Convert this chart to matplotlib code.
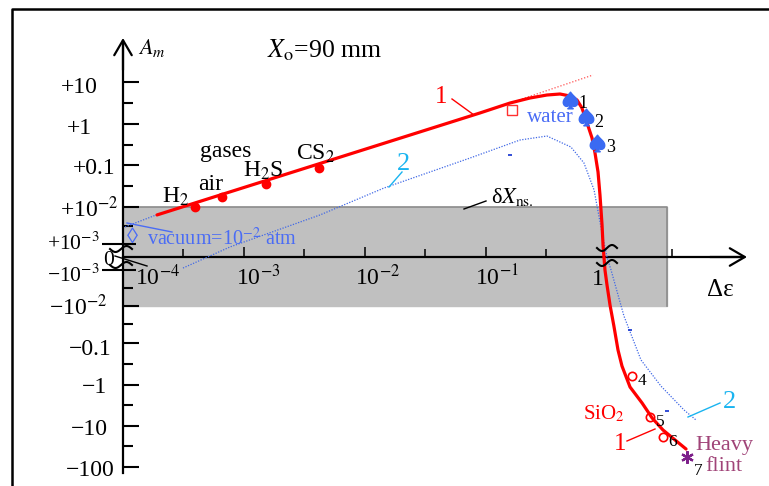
import numpy as np
import matplotlib
matplotlib.use('Agg')
import matplotlib.pyplot as plt
from matplotlib.lines import Line2D

plt.rcParams['font.family'] = 'Liberation Serif'
plt.rcParams['mathtext.fontset'] = 'stix'

# ---- values (delta-eps, A_m) ----
# curve 1, red thick
eps1 = [1.91e-4, 0.0891, 0.158, 0.231, 0.319, 0.409, 0.494, 0.565, 0.621, 0.684,
        0.752, 0.796, 0.843, 0.875, 0.910, 0.927, 0.944, 0.962, 1.0, 1.059,
        1.14, 1.233, 1.33, 1.55, 1.95, 2.36, 2.90, 3.65, 4.50]
amp1 = [6.1e-3, 1.83, 3.16, 4.16, 4.90, 5.18, 4.64, 3.73, 2.40, 1.06,
        0.456, 0.196, 0.0681, 0.0193, 0.00327, 0.000923, 0.0, -0.001, -0.00261, -0.00938,
        -0.0347, -0.147, -0.354, -1.12, -2.75, -6.38, -12.5, -21.9, -36.4]
# dotted continuation of the straight part of curve 1
eps1_ext = [0.158, 0.766]
amp1_ext = [3.16, 14.8]

# curve 2, blue dotted
eps2 = [3.13e-4, 7.65e-4, 4.25e-3, 0.01435, 0.0738, 0.191, 0.319, 0.503, 0.645, 0.782,
        0.910, 1.0, 1.08, 1.38, 1.91, 2.79, 4.33, 5.44]
amp2 = [-0.00085, 0.00077, 0.0061, 0.0283, 0.148, 0.407, 0.509, 0.275, 0.112, 0.0254,
        0.00198, 0.0, -0.001, -0.0186, -0.254, -1.06, -4.07, -7.14]
eps2_ext = [1.04e-4, 1.98e-4]
amp2_ext = [2.9e-3, 6.5e-3]
eps2_marks = [0.158, 1.55, 3.13]
amp2_marks = [0.175, -0.0446, -4.3]

# gases
gas_names = ['H$_2$', 'air', 'H$_2$S', 'CS$_2$']
gas_eps = [3.94e-4, 6.58e-4, 1.52e-3, 4.17e-3]
gas_amp = [0.01, 0.0173, 0.0353, 0.0849]

# water (1, 2, 3)
water_eps = [0.494, 0.670, 0.826]
water_amp = [3.73, 1.47, 0.344]

# SiO2 (4, 5, 6) and heavy flint (7)
sio2_eps = [1.61, 2.27, 2.9]
sio2_amp = [-0.61, -6.0, -18.5]
flint_eps = [4.58]
flint_amp = [-57.0]

square_eps = [0.164]
square_amp = [2.15]

# tick values
y_major = [10, 1, 0.1, 0.01, -0.01, -0.1, -1, -10, -100]
y_minor = [3.16, 0.316, 0.0316, 0.00316, -0.00316, -0.0316, -0.316, -3.16, -31.6]
x_major = [1e-3, 1e-2, 1e-1]
x_minor = [10 ** -3.5, 10 ** -2.5, 10 ** -1.5, 10 ** -0.5, 10 ** 0.54]

W, H = 769, 486

# ---- the A_m axis: decades, squeezed near zero ----
S_KNOTS = np.arange(-7, 8)
PIX = np.array([508, 467, 426, 385, 343, 306, 270, 257, 244, 207, 165, 124, 82, 41, 0])


def a_to_s(a):
    a = np.asarray(a, float)
    big = np.sign(a) * (np.log10(np.maximum(np.abs(a), 1e-12)) + 4)
    return np.where(np.abs(a) < 1e-3, a * 1e3, big)


def s_to_a(s):
    s = np.asarray(s, float)
    big = np.sign(s) * 10 ** (np.abs(s) - 4)
    return np.where(np.abs(s) < 1, s * 1e-3, big)


def fwd(a):
    return np.interp(a_to_s(a), S_KNOTS, -PIX)


def inv(v):
    return s_to_a(np.interp(v, -PIX, S_KNOTS))


def P(x, y):
    return x / W, 1 - y / H


fig = plt.figure(figsize=(W / 100, H / 100), dpi=100)
ax = fig.add_axes([0, 0, 1, 1])
ax.patch.set_alpha(0)
ax.set_xscale('log')
ax.set_yscale('function', functions=(fwd, inv))
ax.set_xlim(10 ** (-4 - 123 / 121), 10 ** (-4 + 646 / 121))
ax.set_ylim(float(inv(-H)), float(inv(0)))

# gray noise band
ax.fill_between([1e-4, 10 ** 0.5], -0.01, 0.01, color='#c0c0c0', zorder=0)
ax.plot([1e-4, 10 ** 0.5, 10 ** 0.5], [0.01, 0.01, -0.01], color='#8c8c8c', lw=1.2, zorder=0.5)

# axes lines and ticks
for side in ['top', 'right']:
    ax.spines[side].set_visible(False)
ax.spines['left'].set_position(('data', 1e-4))
ax.spines['bottom'].set_position(('data', 0.0))
ax.spines['left'].set_bounds(float(inv(-473)), float(inv(-45)))
ax.spines['bottom'].set_bounds(1e-4, 10 ** (-4 + 620 / 121))
ax.spines['left'].set_linewidth(1.6)
ax.spines['bottom'].set_linewidth(1.6)
ax.set_yticks(y_major)
ax.set_yticks(y_minor, minor=True)
ax.set_xticks(x_major)
ax.set_xticks(x_minor, minor=True)
ax.tick_params(axis='y', which='major', direction='in', length=11.5, width=1.5, labelleft=False)
ax.tick_params(axis='y', which='minor', direction='in', length=7.2, width=1.5)
ax.tick_params(axis='x', which='major', direction='in', length=7.5, width=1.1, labelbottom=False)
ax.tick_params(axis='x', which='minor', direction='in', length=5.5, width=1.1)
ax.plot([9.3e-5, 9.3e-5], [1e-3, -1e-3], ls='none', marker='_', ms=25, mew=1.5, color='k')

arrow = dict(arrowstyle='->,head_length=0.6,head_width=0.35', lw=1.6, color='k',
             shrinkA=0, shrinkB=0, mutation_scale=18)
ax.annotate('', xy=(123, H - 38), xytext=(123, H - 70), xycoords='figure pixels', arrowprops=arrow)
ax.annotate('', xy=(747, H - 257), xytext=(710, H - 257), xycoords='figure pixels', arrowprops=arrow)

# curves
ax.plot(eps1, amp1, color='red', lw=2.3, zorder=4, solid_capstyle='round', solid_joinstyle='round')
ax.plot(eps1_ext, amp1_ext, color='#ff5050', lw=0.9, ls=(0, (1, 1.5)), zorder=3)
ax.plot(eps2, amp2, color='#4169e6', lw=0.9, ls=(0, (1, 1.2)), zorder=3)
ax.plot(eps2_ext, amp2_ext, color='#4169e6', lw=0.9, ls=(0, (1, 1.2)), zorder=3)
ax.plot(eps2_marks, amp2_marks, ls='none', marker='_', ms=3, mew=1.2, color='#1030d0', zorder=3)

# points
ax.plot(gas_eps, gas_amp, ls='none', marker='o', ms=6, color='red', zorder=5)
ax.plot(water_eps, water_amp, ls='none', marker=r'$\spadesuit$', ms=12, color='#3a6af2', zorder=5)
ax.plot(sio2_eps, sio2_amp, ls='none', marker='o', ms=6, mfc='none', mec='red', mew=1.2, zorder=5)
ax.plot(flint_eps, flint_amp, ls='none', marker=(6, 2, 0), ms=9, mew=1.6, color='#7d1f8a', zorder=5)
ax.plot(square_eps, square_amp, ls='none', marker='s', ms=6.5, mfc='none', mec='#ff3030', mew=1.0, zorder=5)


# ---- texts ----
def txt(x, y, s, size=16, color='k', ha='center', va='center', **kw):
    fig.text(*P(x, y), s, fontsize=size, color=color, ha=ha, va=va, **kw)


txt(152, 48, '$A_m$', 16)
txt(267, 50, '$X_{\\mathrm{o}}$=90 mm', 18.5, ha='left')

# y tick labels: (text, right edge, baseline, size)
ylabels = [('+10', 98, 93, 17), ('+1', 92, 134, 17), ('+0.1', 115, 174, 17),
           ('+10$^{\u22122}$', 118, 217, 17), ('+10$^{\u22123}$', 100, 250, 15.5),
           ('0', 114, 265, 15.5), ('\u221210$^{\u22123}$', 100, 282, 15.5),
           ('\u221210$^{\u22122}$', 107, 315, 17), ('\u22120.1', 112, 355, 17), ('\u22121', 107, 393, 17),
           ('\u221210', 108, 435, 17), ('\u2212100', 115, 476, 17)]
for s, xr, yb, fs in ylabels:
    txt(xr, yb, s, fs, ha='right', va='baseline')

xlabels = [('10$^{\u22124}$', 158), ('10$^{\u22123}$', 258), ('10$^{\u22122}$', 378),
           ('10$^{\u22121}$', 497), ('1', 598)]
for s, xc in xlabels:
    txt(xc, 285, s, 17, va='baseline')
txt(720, 296, '\u0394\u03b5', 18, va='baseline')

txt(226, 151, 'gases', 17)
for name, (xc, yc) in zip(gas_names, [(176, 197), (211, 184), (263, 171), (316, 154)]):
    txt(xc, yc, name, 17)

txt(441, 97, '1', 18, 'red')
txt(404, 164, '2', 19, '#1ab4f0')
txt(620, 444, '1', 18, 'red')
txt(730, 402, '2', 19, '#1ab4f0')
txt(550, 117, 'water', 15, '#4a6cf5')
for n, (xc, yc) in zip('123', [(583, 104), (599, 122), (611, 148)]):
    txt(xc, yc, n, 13)
txt(604, 414, 'SiO$_2$', 15, 'red')
for n, (xc, yc) in zip('4567', [(642, 381), (660, 422), (673, 442), (698, 471)]):
    txt(xc, yc, n, 12.5)
txt(695, 445, 'Heavy', 16, '#a04478', ha='left')
txt(705, 466, 'flint', 16, '#a04478', ha='left')
txt(512, 197, '\u03b4$X_{\\mathrm{ns.}}$', 16)
txt(132, 238, '\u25ca', 16, '#4a6cf5')
txt(147, 239, 'vacuum=10$^{\u22122}$ atm', 14.5, '#4a6cf5', ha='left')


# leader lines
def seg(x0, y0, x1, y1, color='k', lw=1.0):
    (a, b), (c, d) = P(x0, y0), P(x1, y1)
    fig.add_artist(Line2D([a, c], [b, d], color=color, lw=lw))


seg(452, 99, 474, 115, 'red')
seg(389, 187, 402, 172, '#1ab4f0')
seg(627, 441, 655, 429, 'red')
seg(688, 417, 720, 403, '#1ab4f0')
seg(464, 209, 486, 201)
seg(127, 223, 172, 232, '#4a6cf5')
seg(115, 256, 147, 266)


# axis break squiggles
def squiggle(cx, cy, w=22, amp=3.0):
    t = np.linspace(-1, 1, 40)
    xs = cx + t * w / 2
    ys = cy - amp * np.sin(t * np.pi)
    fig.add_artist(Line2D(xs / W, 1 - ys / H, color='k', lw=1.5))


squiggle(121, 249)
squiggle(121, 265)
squiggle(607, 248, 20)
squiggle(607, 263, 20)

# outer frame
fig.add_artist(Line2D(np.array([12, 12, 769]) / W, 1 - np.array([486, 9, 9]) / H, color='k', lw=1.8))

fig.savefig('out.png', dpi=100)
